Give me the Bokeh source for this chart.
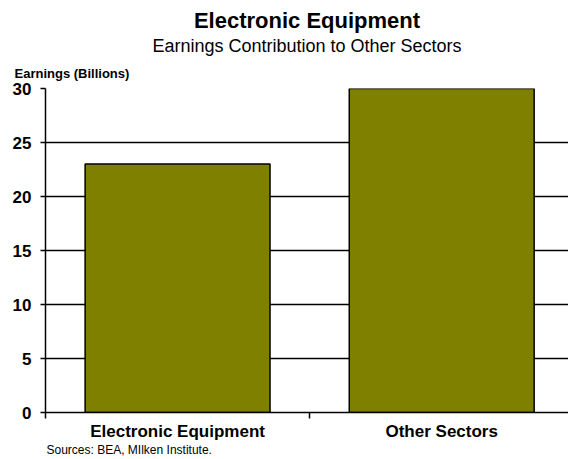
from bokeh.plotting import figure
from bokeh.models import Range1d, FixedTicker, Title
from bokeh.embed import file_html
from bokeh.resources import INLINE

categories = ["Electronic Equipment", "Other Sectors"]
earnings = [23, 30]
y_ticks = [0, 5, 10, 15, 20, 25, 30]

title_text = "Electronic Equipment"
subtitle_text = "Earnings Contribution to Other Sectors"
ylabel_text = "Earnings (Billions)"
source_text = "Sources: BEA, MIlken Institute."

FONT = "Liberation Sans"

xs = [i + 0.5 for i in range(len(categories))]

p = figure(width=568, height=459, output_backend="svg", toolbar_location=None,
           x_range=Range1d(0, 1.98), y_range=Range1d(0, 30),
           min_border_left=45, min_border_right=0, min_border_top=88, min_border_bottom=47)
p.title = None
p.outline_line_color = None
p.background_fill_color = "white"
p.border_fill_color = "white"

p.vbar(x=xs, top=earnings, width=0.7, fill_color="#808000", line_color="black", line_width=1.5)

# y axis
ya = p.yaxis[0]
ya.ticker = FixedTicker(ticks=y_ticks, minor_ticks=[])
ya.axis_line_color = "black"
ya.axis_line_width = 1.5
ya.major_tick_line_color = "black"
ya.major_tick_line_width = 1.5
ya.major_tick_in = 0
ya.major_tick_out = 5
ya.minor_tick_line_color = None
ya.major_label_standoff = 9
ya.major_label_text_font = FONT
ya.major_label_text_font_style = "bold"
ya.major_label_text_font_size = "17px"
ya.major_label_text_color = "black"

# x axis
xa = p.xaxis[0]
xa.ticker = FixedTicker(ticks=xs, minor_ticks=list(range(len(categories) + 1)))
xa.major_label_overrides = {x: c for x, c in zip(xs, categories)}
xa.axis_line_color = "black"
xa.axis_line_width = 1.5
xa.major_tick_line_color = None
xa.major_tick_in = 0
xa.major_tick_out = 0
xa.minor_tick_line_color = "black"
xa.minor_tick_line_width = 1.5
xa.minor_tick_in = 0
xa.minor_tick_out = 6
xa.major_label_standoff = 3
xa.major_label_text_font = FONT
xa.major_label_text_font_style = "bold"
xa.major_label_text_font_size = "17px"
xa.major_label_text_color = "black"

p.xgrid.grid_line_color = None
p.ygrid.ticker = FixedTicker(ticks=y_ticks)
p.ygrid.grid_line_color = "black"
p.ygrid.grid_line_width = 1.5

def add_title(text, place, size, style, align, offset, standoff):
    p.add_layout(Title(text=text, text_font=FONT, text_font_size=size, text_font_style=style,
                       align=align, offset=offset, standoff=standoff, text_color="black"), place)

# stacked outward from the frame
add_title(ylabel_text, "above", "13px", "bold", "left", -31, 15)
add_title(subtitle_text, "above", "18px", "normal", "center", 7, 1)
add_title(title_text, "above", "22px", "bold", "center", 0, 2)
add_title(source_text, "below", "12px", "normal", "left", 1, -5)

open("out.html", "w").write(file_html(p, INLINE))
